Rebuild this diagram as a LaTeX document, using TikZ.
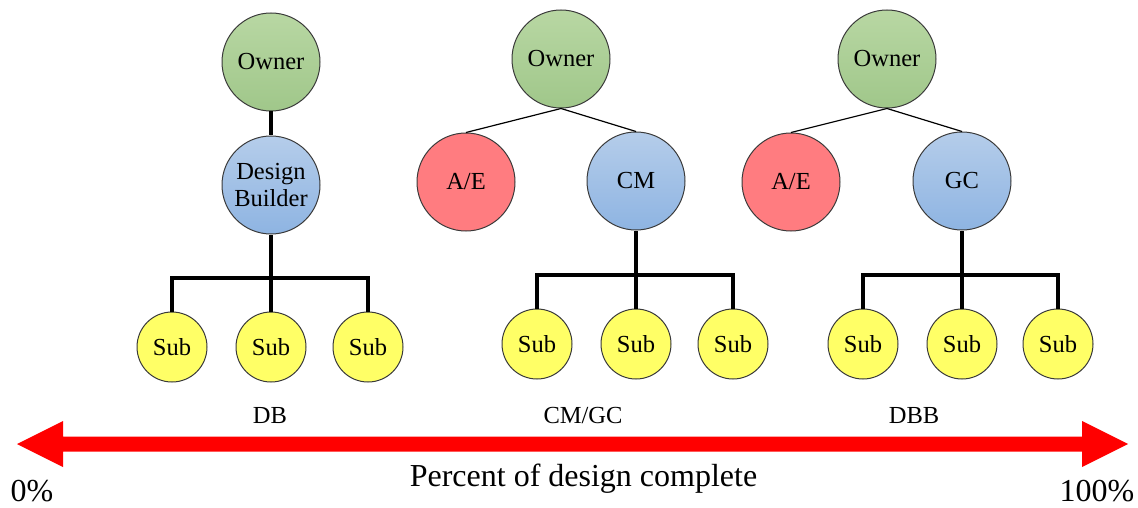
\documentclass[tikz,border=0pt]{standalone}
\usepackage{fontspec}
\setmainfont{Liberation Serif}

\definecolor{ownTop}{HTML}{B8D7A3}
\definecolor{ownBot}{HTML}{A0C78A}
\definecolor{blueTop}{HTML}{B5CDEA}
\definecolor{blueBot}{HTML}{8EB4E2}
\definecolor{aeRed}{HTML}{FF7C80}
\definecolor{subYel}{HTML}{FFFF66}
\definecolor{rimGray}{HTML}{3A3A3A}
\definecolor{barRed}{HTML}{FF0000}

\tikzset{
  party/.style={circle, draw=rimGray, line width=1pt, inner sep=0pt,
    minimum size=98pt, align=center,
    font=\fontsize{24.5}{27.5}\selectfont},
  ownerbox/.style={party, top color=ownTop, bottom color=ownBot},
  leadbox/.style={party, top color=blueTop, bottom color=blueBot},
  aebox/.style={party, fill=aeRed},
  subbox/.style={party, minimum size=70pt, fill=subYel},
  trunk/.style={line width=3.5pt, line join=miter},
  twig/.style={line width=1.2pt},
  phase/.style={anchor=base, font=\fontsize{24.5}{27.5}\selectfont},
  scale label/.style={anchor=base, font=\fontsize{32}{36}\selectfont},
}

\begin{document}
\begin{tikzpicture}[x=1pt, y=-1pt]
\useasboundingbox (0,0) rectangle (1138,508);

% ---- Design-Build ----
\node[ownerbox] (o1) at (271,62) {Owner};
\node[leadbox]  (d1) at (271,185) {Design\\Builder};
\node[subbox] (s11) at (172,347) {Sub};
\node[subbox] (s12) at (271,347) {Sub};
\node[subbox] (s13) at (368,347) {Sub};
\coordinate (b1) at (271,278);
\draw[trunk] (o1) -- (d1);
\draw[trunk] (d1.south) -- (b1);
\draw[trunk] (s11.north) -- (s11.north |- b1) -- (s13.north |- b1) -- (s13.north);
\draw[trunk] (s12.north) -- (s12.north |- b1);

% ---- CM at risk / GC ----
\node[ownerbox] (o2) at (561,59) {Owner};
\node[aebox]    (a2) at (466,182) {A/E};
\node[leadbox]  (c2) at (636,181) {CM};
\node[subbox] (s21) at (537,344) {Sub};
\node[subbox] (s22) at (636,344) {Sub};
\node[subbox] (s23) at (733,344) {Sub};
\coordinate (b2) at (636,275);
\draw[twig] (a2.north) -- (o2.south) -- (c2.north);
\draw[trunk] (c2.south) -- (b2);
\draw[trunk] (s21.north) -- (s21.north |- b2) -- (s23.north |- b2) -- (s23.north);
\draw[trunk] (s22.north) -- (s22.north |- b2);

% ---- Design-Bid-Build ----
\node[ownerbox] (o3) at (887,59) {Owner};
\node[aebox]    (a3) at (791,182) {A/E};
\node[leadbox]  (g3) at (962,181) {GC};
\node[subbox] (s31) at (863,344) {Sub};
\node[subbox] (s32) at (962,344) {Sub};
\node[subbox] (s33) at (1058,344) {Sub};
\coordinate (b3) at (962,275);
\draw[twig] (a3.north) -- (o3.south) -- (g3.north);
\draw[trunk] (g3.south) -- (b3);
\draw[trunk] (s31.north) -- (s31.north |- b3) -- (s33.north |- b3) -- (s33.north);
\draw[trunk] (s32.north) -- (s32.north |- b3);

% ---- delivery method labels ----
\node[phase] (lDB)  at (270,423) {DB};
\node[phase] (lCM)  at (583,423) {CM/GC};
\node[phase] (lDBB) at (914,423) {DBB};

% ---- design-completion scale ----
\fill[barRed] (17,444) -- (63,421) -- (63,436.5) -- (1082,436.5) -- (1082,421)
  -- (1128,444) -- (1082,467) -- (1082,451.5) -- (63,451.5) -- (63,467) -- cycle;
\node[scale label] (pct) at (583.5,486) {Percent of design complete};
\node[scale label] (lo)  at (32,501) {0\%};
\node[scale label] (hi)  at (1097,501) {100\%};
\end{tikzpicture}
\end{document}
